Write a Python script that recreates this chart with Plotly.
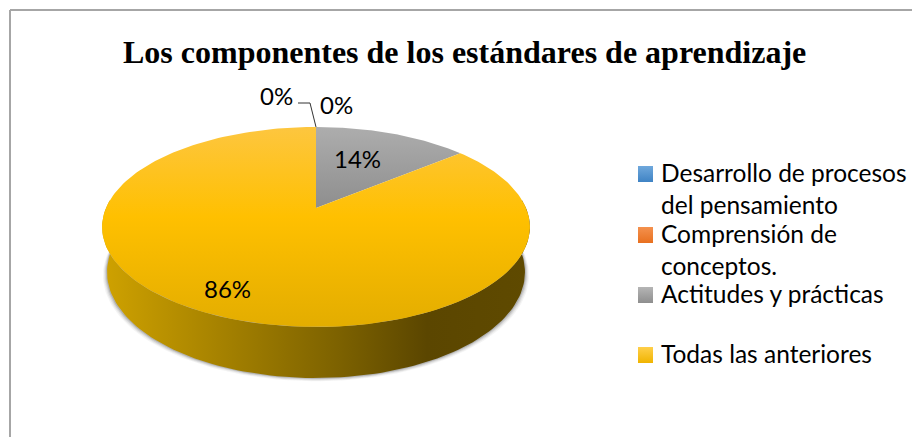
import numpy as np
import plotly.graph_objects as go

title = "Los componentes de los estándares de aprendizaje"
categories = [
    "Desarrollo de procesos<br>del pensamiento",
    "Comprensión de<br>conceptos.",
    "Actitudes y prácticas",
    "Todas las anteriores",
]
values = [0, 0, 14, 86]

# top and bottom colour of each slice
slice_colors = [
    ("#6FA8DC", "#4A8CC8"),
    ("#F4914E", "#E8701F"),
    ("#ADADAD", "#8E8E8E"),
    ("#FDC63F", "#E3AD00"),
]
swatch_colors = [
    ("#6FA8DC", "#3F83C4"),
    ("#F4914E", "#E8701F"),
    ("#B5B5B5", "#8E8E8E"),
    ("#FFCF4A", "#F0B400"),
]

# pixel layout of the fake 3d pie
CX, CY = 316, 208
RX, RY, PERSP = 210, 96.4, 0.19

label_pos = [(276, 95), (336, 104), (357, 158), (227, 288)]
legend_rows = [172, 233, 293, 353]


def rim(angle_deg):
    # angle clockwise from 12 o'clock, circle seen in perspective
    a = np.radians(angle_deg)
    w = 1 - PERSP * -np.cos(a)
    return CX + RX * np.sin(a) / w, CY - RY * np.cos(a) / w


def lower_rim(angle_deg):
    x, y = rim(angle_deg)
    return CX + (x - CX) * 0.977, y + 45 + 6 * (y - 225) / 102


fig = go.Figure()

# soft shadow under the pie
front = np.linspace(85, 275, 120)
for grow, alpha in [(4, 0.06), (3, 0.08), (2, 0.12), (1, 0.2)]:
    x, y = lower_rim(front)
    fig.add_trace(
        go.Scatter(
            x=CX + (x - CX) * (1 + grow / 209),
            y=y + grow * 0.8,
            mode="lines",
            line=dict(width=0),
            fill="toself",
            fillcolor=f"rgba(60,60,60,{alpha})",
            hoverinfo="skip",
        )
    )

# side of the pie
top_x, top_y = rim(front)
low_x, low_y = lower_rim(front)
fig.add_trace(
    go.Scatter(
        x=np.concatenate([top_x, low_x[::-1]]),
        y=np.concatenate([top_y, low_y[::-1]]),
        mode="lines",
        line=dict(width=0),
        fill="toself",
        fillgradient=dict(
            type="horizontal",
            colorscale=[
                [0, "#CFA200"],
                [0.3, "#A27F00"],
                [0.55, "#7D6200"],
                [0.76, "#5B4600"],
                [1, "#5F4A00"],
            ],
        ),
        hoverinfo="skip",
    )
)

# top of the pie, slices start at 12 o'clock and go clockwise
start = 0
for value, (c_top, c_low) in zip(values, slice_colors):
    sweep = value / sum(values) * 360
    if value > 0:
        angles = np.linspace(start, start + sweep, 200)
        x, y = rim(angles)
        if value == max(values):
            scale = [[0, c_low], [0.55, "#FFC000"], [1, c_top]]
        else:
            scale = [[0, c_low], [1, c_top]]
        fig.add_trace(
            go.Scatter(
                x=np.concatenate([[CX], x, [CX]]),
                y=np.concatenate([[CY], y, [CY]]),
                mode="lines",
                line=dict(width=0),
                fill="toself",
                fillgradient=dict(type="vertical", colorscale=scale),
                hoverinfo="skip",
            )
        )
    start += sweep

# leader line for the 0% label
fig.add_trace(
    go.Scatter(
        x=[298, 310, 316],
        y=[103, 103, 127],
        mode="lines",
        line=dict(color="#333333", width=1),
        hoverinfo="skip",
    )
)

# legend swatches
for row, (c_top, c_low) in zip(legend_rows, swatch_colors):
    fig.add_trace(
        go.Scatter(
            x=[638, 653, 653, 638, 638],
            y=[row - 6, row - 6, row + 10, row + 10, row - 6],
            mode="lines",
            line=dict(width=0),
            fill="toself",
            fillgradient=dict(type="vertical", colorscale=[[0, c_low], [1, c_top]]),
            hoverinfo="skip",
        )
    )

annotations = [
    dict(
        x=464,
        y=52,
        text=f"<b>{title}</b>",
        font=dict(family="Liberation Serif", size=32, color="#000000"),
    )
]
for value, (lx, ly) in zip(values, label_pos):
    annotations.append(
        dict(x=lx, y=ly, text=f"{value}%", font=dict(family="Lato", size=24, color="#000000"))
    )
for name, row in zip(categories, legend_rows):
    annotations.append(
        dict(
            x=659,
            y=row - 16,
            text=name,
            xanchor="left",
            yanchor="top",
            align="left",
            font=dict(family="Lato", size=24.5, color="#000000"),
        )
    )
for a in annotations:
    a.update(xref="x", yref="y", showarrow=False)

# the page puts the plot 8px in from the corner, so the axes start at 8
fig.update_layout(
    width=912,
    height=429,
    margin=dict(l=0, r=0, t=0, b=0),
    paper_bgcolor="white",
    plot_bgcolor="white",
    showlegend=False,
    annotations=annotations,
    xaxis=dict(range=[8, 920], visible=False, fixedrange=True),
    yaxis=dict(range=[437, 8], visible=False, fixedrange=True),
    shapes=[
        dict(type="line", x0=10, x1=10, y0=10, y1=437, line=dict(color="#A6A6A6", width=2)),
        dict(type="line", x0=10, x1=920, y0=10, y1=10, line=dict(color="#A6A6A6", width=2)),
    ],
)

fig.write_html("out.html")
